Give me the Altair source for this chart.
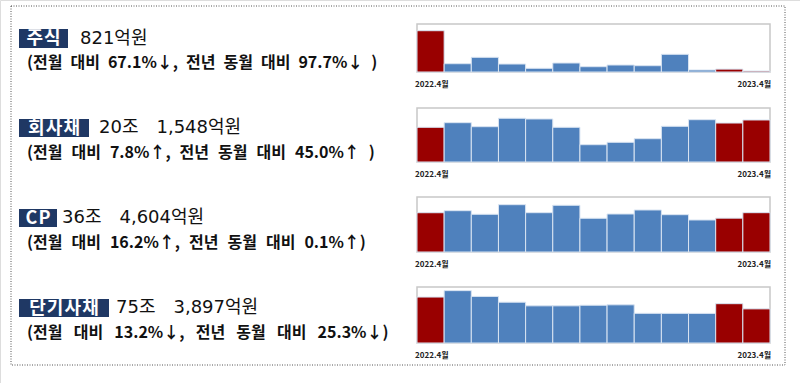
import altair as alt
import pandas as pd

# ---- data ----
months = ["2022.4", "2022.5", "2022.6", "2022.7", "2022.8", "2022.9", "2022.10",
          "2022.11", "2022.12", "2023.1", "2023.2", "2023.3", "2023.4"]
highlight_months = ["2022.4", "2023.3", "2023.4"]

stock = [35700, 7170, 12700, 6900, 3200, 7780, 4580, 6050, 5450, 15300, 1730, 2495, 821]
corp = [166500, 188600, 169400, 209700, 206400, 166500, 83000, 94500, 111800, 171300, 203000, 186965, 201548]
cp = [364240, 383100, 349700, 438800, 364600, 433200, 312600, 352500, 389600, 346000, 296900, 313773, 364604]
short = [1015000, 1156600, 1029000, 901500, 821000, 821000, 834400, 843400, 655500, 655000, 654000, 868500, 753897]

tags = ["주식", "회사채", "CP", "단기사채"]
headlines = ["821억원", "20조 1,548억원", "36조 4,604억원", "75조 3,897억원"]
sublines = [
    "(전월 대비 67.1%↓, 전년 동월 대비 97.7%↓ )",
    "(전월 대비 7.8%↑, 전년 동월 대비 45.0%↑ )",
    "(전월 대비 16.2%↑, 전년 동월 대비 0.1%↑)",
    "(전월 대비 13.2%↓, 전년 동월 대비 25.3%↓)",
]
axis_start = "2022.4월"
axis_end = "2023.4월"

FONT = "Noto Sans CJK KR"
HEAD_FONT = "DejaVu Sans, Noto Sans CJK KR"
BLUE = "#4F81BD"
RED = "#990000"
NAVY = "#1F3864"

series = [stock, corp, cp, short]
domain_max = [41500, 259000, 510000, 1237000]
# panel layout (pixels): (y_top, y_bottom)
panels = [(24, 72), (108, 162), (197, 252), (287, 343)]
X0, X1 = 417, 770
tag_boxes = [(19, 68, 29, 48), (19, 89, 119, 137), (19, 57, 209, 227), (19, 109, 299, 317)]
head_x = [80, 99, 62, 116]
head_y = [39, 128, 218, 308]
sub_y = [63, 153, 243, 333]
sub_sep = ["\u2002", "\u2002\u200A", "\u2002\u200A", "\u2002\u2009"]


def spaced(s, sep):
    return s.replace(" ", sep)


def tracked(s):
    return "\u200A".join(list(s))


one = pd.DataFrame({"k": [0]})
layers = []

# outer dotted frame
layers.append(
    alt.Chart(one).mark_rect(fill="transparent", stroke="#555555", strokeWidth=1,
                             strokeDash=[1, 1.5]).encode(
        x=alt.value(11), x2=alt.value(785), y=alt.value(6), y2=alt.value(365))
)

for i in range(4):
    yt, yb = panels[i]
    # panel box
    layers.append(
        alt.Chart(one).mark_rect(fill="white", stroke="#C8C8C8", strokeWidth=1.5).encode(
            x=alt.value(X0), x2=alt.value(X1), y=alt.value(yt), y2=alt.value(yb))
    )
    df = pd.DataFrame({
        "month": months,
        "value": series[i],
        "hl": ["y" if m in highlight_months else "n" for m in months],
    })
    layers.append(
        alt.Chart(df).mark_bar(stroke="#D9E4F2", strokeWidth=1).encode(
            x=alt.X("month:O", sort=months, axis=None,
                    scale=alt.Scale(range=[X0, X1], paddingInner=0, paddingOuter=0)),
            y=alt.Y("value:Q", axis=None,
                    scale=alt.Scale(domain=[0, domain_max[i]], range=[yb, yt], nice=False)),
            color=alt.Color("hl:N", legend=None,
                            scale=alt.Scale(domain=["y", "n"], range=[RED, BLUE])),
        )
    )
    # axis end labels
    layers.append(
        alt.Chart(one).mark_text(text=axis_start, font=FONT, fontSize=8, fontWeight="bold",
                                 align="left", baseline="middle", color="#222222").encode(
            x=alt.value(X0 - 2), y=alt.value(yb + 13))
    )
    layers.append(
        alt.Chart(one).mark_text(text=axis_end, font=FONT, fontSize=8, fontWeight="bold",
                                 align="right", baseline="middle", color="#222222").encode(
            x=alt.value(X1 + 1), y=alt.value(yb + 13))
    )
    # tag box
    bx0, bx1, by0, by1 = tag_boxes[i]
    layers.append(
        alt.Chart(one).mark_rect(fill=NAVY).encode(
            x=alt.value(bx0), x2=alt.value(bx1), y=alt.value(by0), y2=alt.value(by1))
    )
    layers.append(
        alt.Chart(one).mark_text(text=tracked(tags[i]), font=FONT, fontSize=18, fontWeight="bold",
                                 align="center", baseline="middle", color="white").encode(
            x=alt.value((bx0 + bx1) / 2), y=alt.value((by0 + by1) / 2 + 0.5))
    )
    layers.append(
        alt.Chart(one).mark_text(text=spaced(headlines[i], "\u2003"), font=HEAD_FONT, fontSize=18,
                                 align="left", baseline="middle", color="#111111").encode(
            x=alt.value(head_x[i]), y=alt.value(head_y[i]))
    )
    layers.append(
        alt.Chart(one).mark_text(text=spaced(sublines[i], sub_sep[i]), font=FONT, fontSize=16,
                                 fontWeight="bold", align="left", baseline="middle",
                                 color="#111111").encode(
            x=alt.value(27), y=alt.value(sub_y[i]))
    )

chart = alt.layer(*layers).resolve_scale(x="independent", y="independent").properties(
    width=800, height=383, padding=0,
    autosize=alt.AutoSizeParams(type="none"),
).configure_view(strokeWidth=0).configure(background="white")

chart.save("out.html", embed_options={"renderer": "svg", "actions": False})
